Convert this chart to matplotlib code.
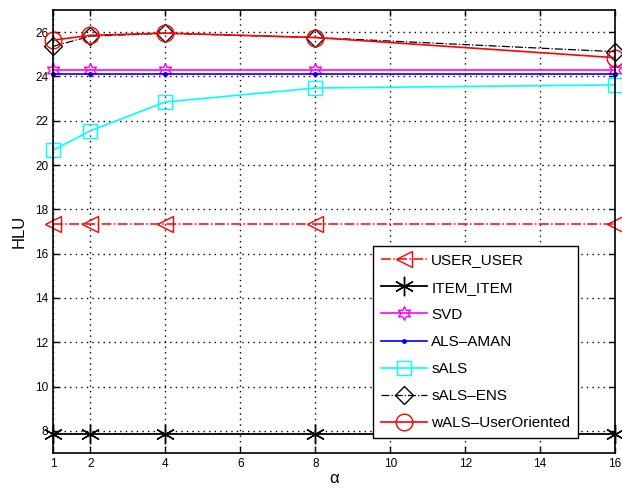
import matplotlib
matplotlib.use("Agg")
import matplotlib.pyplot as plt

plt.rcParams['font.family'] = ['Liberation Sans', 'DejaVu Sans']

alpha = [1, 2, 4, 8, 16]
user_user = [17.32, 17.32, 17.32, 17.32, 17.32]
item_item = [7.85, 7.85, 7.85, 7.85, 7.85]
svd = [24.28, 24.28, 24.28, 24.28, 24.28]
als_aman = [24.13, 24.13, 24.13, 24.13, 24.13]
sals = [20.67, 21.55, 22.85, 23.48, 23.62]
sals_ens = [25.36, 25.82, 25.95, 25.76, 25.12]
wals_user = [25.64, 25.86, 25.96, 25.76, 24.85]

xticks = [1, 2, 4, 6, 8, 10, 12, 14, 16]
yticks = [8, 10, 12, 14, 16, 18, 20, 22, 24, 26]

fig = plt.figure(figsize=(6.22, 4.90), dpi=100)
ax = fig.add_axes([0.0852, 0.0755, 0.9035, 0.904])

ms = 10
kw = dict(clip_on=False)
ax.plot(alpha, user_user, color='red', linestyle='-.', marker='<', markersize=12,
        markerfacecolor='none', markeredgecolor='red', linewidth=1.1, label='USER_USER', **kw)
ax.plot(alpha, item_item, color='black', linestyle='-', marker=(6, 2, 0), markersize=14,
        markeredgewidth=1.0, linewidth=1.3, label='ITEM_ITEM', **kw)
ax.plot(alpha, svd, color='magenta', linestyle='-', marker=(6, 1, 0), markersize=ms,
        markerfacecolor='none', markeredgecolor='magenta', linewidth=1.2, label='SVD', **kw)
ax.plot(alpha, als_aman, color='blue', linestyle='-', marker='.', markersize=5,
        linewidth=1.2, label='ALS\u2013AMAN', **kw)
ax.plot(alpha, sals, color='cyan', linestyle='-', marker='s', markersize=ms,
        markerfacecolor='none', markeredgecolor='cyan', linewidth=1.2, label='sALS', **kw)
ax.plot(alpha, sals_ens, color='black', linestyle='-.', marker='D', markersize=9,
        markerfacecolor='none', markeredgecolor='black', linewidth=0.9, label='sALS\u2013ENS', **kw)
ax.plot(alpha, wals_user, color='red', linestyle='-', marker='o', markersize=12,
        markerfacecolor='none', markeredgecolor='red', linewidth=1.2, label='wALS\u2013UserOriented', **kw)

ax.set_xlim(1, 16)
ax.set_ylim(7, 27)
ax.set_xticks(xticks)
ax.set_yticks(yticks)
ax.tick_params(direction='in', top=True, right=True, labelsize=8.5, length=4, width=1)
ax.grid(True, color='black', linestyle=(0, (1, 3)), linewidth=1.0)
for s in ax.spines.values():
    s.set_linewidth(1.2)

ax.set_ylabel('HLU', fontsize=12, labelpad=6)
ax.set_xlabel('\u03b1', fontsize=12, labelpad=1)

leg = ax.legend(loc='lower right', bbox_to_anchor=(0.934, 0.034), borderaxespad=0,
                fontsize=11, frameon=True, fancybox=False, edgecolor='black', framealpha=1,
                handlelength=3.0, labelspacing=0.86, borderpad=0.5, handletextpad=0.3)
leg.get_frame().set_linewidth(1.0)

fig.savefig('out.png', dpi=100)
